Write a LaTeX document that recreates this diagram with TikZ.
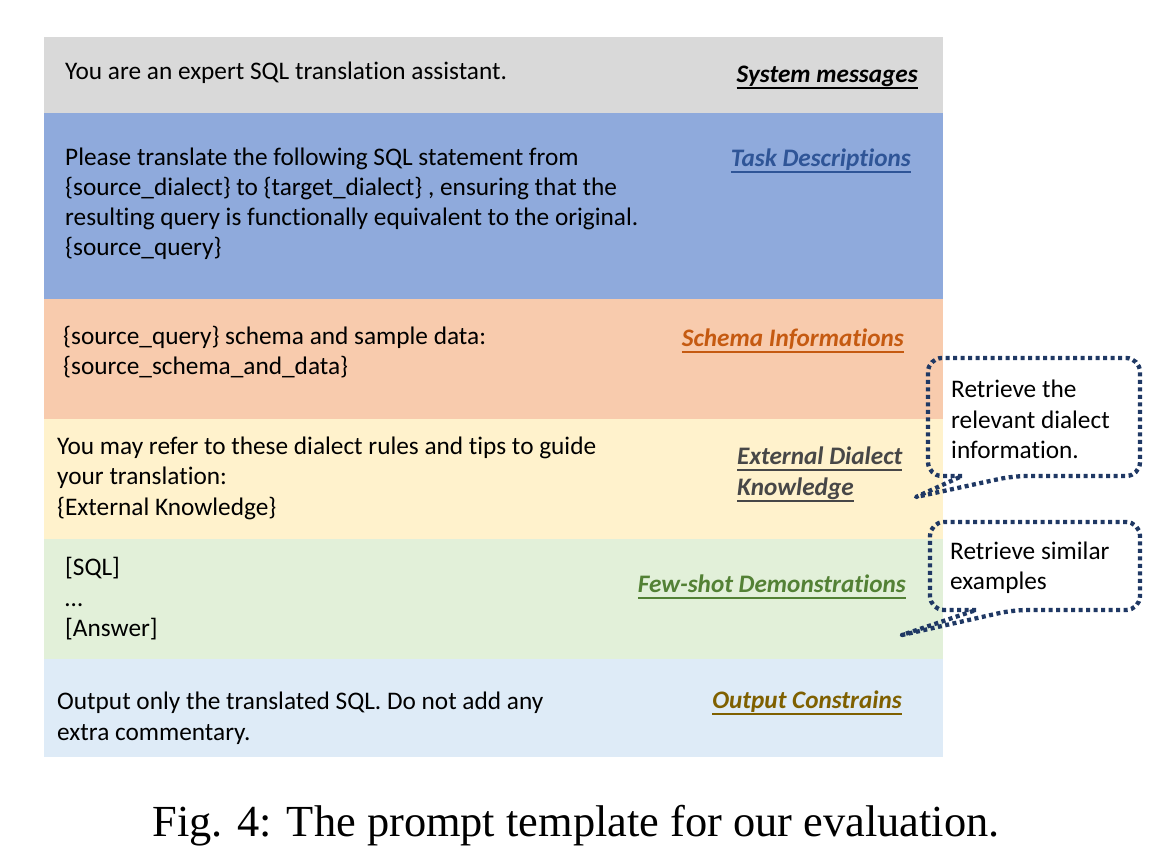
\documentclass[tikz,border=0pt]{standalone}
\usepackage{fontspec}
\setmainfont{Carlito}[Ligatures={NoCommon}]
\newfontfamily\capfont{Liberation Serif}
\definecolor{bandgray}{HTML}{D9D9D9}
\definecolor{bandblue}{HTML}{8FAADC}
\definecolor{bandorange}{HTML}{F8CBAD}
\definecolor{bandyellow}{HTML}{FFF2CC}
\definecolor{bandgreen}{HTML}{E2F0D9}
\definecolor{bandlight}{HTML}{DEEBF7}
\definecolor{navy}{HTML}{1F3864}
\definecolor{lblblue}{HTML}{2F5597}
\definecolor{lblorange}{HTML}{C55A11}
\definecolor{lblgray}{HTML}{474747}
\definecolor{lblgreen}{HTML}{538135}
\definecolor{lblbrown}{HTML}{7F6000}
\newcommand\ulbl[1]{\setbox0\hbox{#1}\rlap{\rule[-7pt]{\wd0}{1.8pt}}\box0}
\tikzset{
  body/.style={anchor=base west, inner sep=0pt, font=\fontsize{25.3}{30}\selectfont},
  lbl/.style={anchor=base east, inner sep=0pt, font=\fontsize{25.2}{30}\selectfont\bfseries\itshape},
  lblw/.style={lbl, anchor=base west},
  callout/.style={draw=navy, line width=4.3pt, dash pattern=on 4pt off 3.5pt, line join=round},
}
\begin{document}
\begin{tikzpicture}[x=1pt,y=-1pt]
\useasboundingbox (0,0) rectangle (1165,867);
% bands
\fill[bandgray]   (44,37)  rectangle (943,113);
\fill[bandblue]   (44,113) rectangle (943,299);
\fill[bandorange] (44,299) rectangle (943,419);
\fill[bandyellow] (44,419) rectangle (943,539);
\fill[bandgreen]  (44,539) rectangle (943,659);
\fill[bandlight]  (44,659) rectangle (943,757);
% system
\node[body] (sys) at (65,80) {You are an expert SQL translation assistant.};
\node[lbl] (sysl) at (918,82) {\ulbl{System messages}};
% task
\node[body] (t1) at (65,165) {Please translate the following SQL statement from};
\node[body] (t2) at (65,195) {\{source\_dialect\} to \{target\_dialect\} , ensuring that the};
\node[body] (t3) at (65,225) {resulting query is functionally equivalent to the original.};
\node[body] (t4) at (65,255) {\{source\_query\}};
\node[lbl, text=lblblue] (taskl) at (911,166) {\ulbl{Task Descriptions}};
% schema
\node[body] (s1) at (63,344) {\{source\_query\} schema and sample data:};
\node[body] (s2) at (63,374) {\{source\_schema\_and\_data\}};
\node[lbl, text=lblorange] (schl) at (904,346) {\ulbl{Schema Informations}};
% external
\node[body] (e1) at (57,454) {You may refer to these dialect rules and tips to guide};
\node[body] (e2) at (57,484) {your translation:};
\node[body] (e3) at (57,515) {\{External Knowledge\}};
\node[lblw, text=lblgray] (extl1) at (737,464) {\ulbl{External Dialect}};
\node[lblw, text=lblgray] (extl2) at (737,495) {\ulbl{Knowledge}};
% few-shot
\node[body] (f1) at (65,575) {[SQL]};
\node[body] (f2) at (65,606) {…};
\node[body] (f3) at (65,636) {[Answer]};
\node[lbl, text=lblgreen] (fewl) at (906,592) {\ulbl{Few-shot Demonstrations}};
% output
\node[body] (o1) at (57,709) {Output only the translated SQL. Do not add any};
\node[body] (o2) at (57,740) {extra commentary.};
\node[lbl, text=lblbrown] (outl) at (902,708) {\ulbl{Output Constrains}};
% callout 1
\draw[callout] (962,476) [rounded corners=14] -- (928,476) -- (928,358) -- (1140,358) -- (1140,476) -- (1013,476) [sharp corners] -- (916,497) -- cycle;
\node[body] (c11) at (951,397) {Retrieve the};
\node[body] (c12) at (951,428) {relevant dialect};
\node[body] (c13) at (951,458) {information.};
% callout 2
\draw[callout] (976,610) [rounded corners=14] -- (930,610) -- (930,522) -- (1140,522) -- (1140,610) -- (1013,610) [sharp corners] -- (902,635) -- cycle;
\node[body] (c21) at (950,559) {Retrieve similar};
\node[body] (c22) at (950,589) {examples};
% caption
\node[anchor=base, inner sep=0pt, font=\capfont\fontsize{44.4}{50}\selectfont] (cap) at (576,836) {Fig. 4: The prompt template for our evaluation.};
\end{tikzpicture}
\end{document}
